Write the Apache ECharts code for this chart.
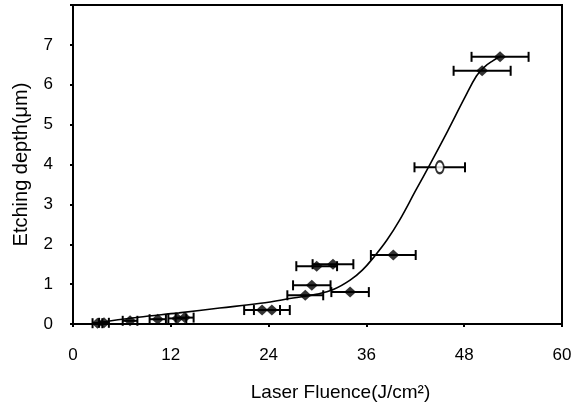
<!DOCTYPE html>
<html>
<head>
<meta charset="utf-8">
<script src="https://cdn.jsdelivr.net/npm/echarts@6/dist/echarts.min.js"></script>
<style>html,body{margin:0;padding:0;background:#fff}#c{width:578px;height:403px}</style>
</head>
<body>
<div id="c"></div>
<script>
// Measured points (Laser fluence J/cm2, etching depth um, +/- fluence error)
var fluence    = [3.0, 3.8, 7.0, 10.4, 12.8, 13.7, 23.2, 24.4, 28.5, 29.3, 34.0, 29.9, 31.9, 39.3, 45.0, 50.2, 52.4];
var depth      = [0.02, 0.03, 0.08, 0.12, 0.14, 0.16, 0.35, 0.35, 0.72, 0.97, 0.80, 1.45, 1.50, 1.73, 3.93, 6.35, 6.70];
var fluenceErr = [0.6, 0.6, 0.9, 1.0, 1.1, 1.1, 2.2, 2.2, 2.2, 2.3, 2.3, 2.5, 2.5, 2.75, 3.1, 3.5, 3.5];
var hollow     = [false,false,false,false,false,false,false,false,false,false,false,false,false,false,true,false,false];

// Fitted curve
var curveX = [2.5, 8, 13, 18, 23, 27, 30, 32, 34, 35.5, 37, 38.5, 40, 42, 44, 46, 48, 49.5, 50.5, 51.5, 52.5];
var curveY = [0.02, 0.17, 0.28, 0.40, 0.52, 0.65, 0.75, 0.87, 1.10, 1.35, 1.70, 2.10, 2.58, 3.33, 4.08, 4.85, 5.65, 6.22, 6.45, 6.60, 6.72];

var xTicks = [0, 12, 24, 36, 48, 60];
var yTicks = [0, 1, 2, 3, 4, 5, 6, 7];

var chart = echarts.init(document.getElementById('c'), null, {renderer: 'canvas'});

var pts = fluence.map(function (x, i) {
  var d = {value: [x, depth[i]]};
  if (hollow[i]) {
    d.symbol = 'circle';
    d.symbolSize = [8, 12];
    d.itemStyle = {color: '#fff', borderColor: '#000', borderWidth: 2};
  }
  return d;
});
var errData = fluence.map(function (x, i) { return [x, depth[i], fluenceErr[i]]; });
var curve = curveX.map(function (x, i) { return [x, curveY[i]]; });

var sans = '"Liberation Sans", Arial, sans-serif';

chart.setOption({
  animation: false,
  backgroundColor: '#fff',
  grid: {left: 73, right: 16, top: 5, bottom: 79, show: true, borderColor: '#000', borderWidth: 2,
    containLabel: false, outerBoundsMode: 'none'},
  xAxis: {
    type: 'value', min: 0, max: 60, interval: 12,
    axisLine: {show: true, lineStyle: {color: '#000', width: 2}},
    axisTick: {show: true, inside: false, length: 3, lineStyle: {color: '#000', width: 2}},
    splitLine: {show: false},
    axisLabel: {color: '#000', fontSize: 17, fontFamily: sans, margin: 23,
      formatter: function (v) { return xTicks.indexOf(v) >= 0 ? String(v) : ''; }},
    name: 'Laser Fluence(J/cm²)', nameLocation: 'middle', nameGap: 59,
    nameTextStyle: {color: '#000', fontSize: 19, fontFamily: sans, padding: [0, 0, 0, 46]}
  },
  yAxis: {
    type: 'value', min: 0, max: 8, interval: 1,
    axisLine: {show: true, lineStyle: {color: '#000', width: 2}},
    axisTick: {show: true, inside: false, length: 3, lineStyle: {color: '#000', width: 2}},
    splitLine: {show: false},
    axisLabel: {color: '#000', fontSize: 17, fontFamily: sans, margin: 20,
      formatter: function (v) { return yTicks.indexOf(v) >= 0 ? String(v) : ''; }},
    name: 'Etching depth(μm)', nameLocation: 'middle', nameGap: 42, nameRotate: 90,
    nameTextStyle: {color: '#000', fontSize: 20, fontFamily: sans}
  },
  series: [
    {
      type: 'line', data: curve, smooth: 0.4, showSymbol: false, symbol: 'none',
      lineStyle: {color: '#000', width: 1.6}, z: 2
    },
    {
      type: 'custom', data: errData, z: 3,
      renderItem: function (params, api) {
        var x = api.value(0), y = api.value(1), e = api.value(2);
        var p1 = api.coord([x - e, y]);
        var p2 = api.coord([x + e, y]);
        var h = 5;
        var st = {stroke: '#000', lineWidth: 2};
        return {
          type: 'group',
          children: [
            {type: 'line', shape: {x1: p1[0], y1: p1[1], x2: p2[0], y2: p2[1]}, style: st},
            {type: 'line', shape: {x1: p1[0], y1: p1[1] - h, x2: p1[0], y2: p1[1] + h}, style: st},
            {type: 'line', shape: {x1: p2[0], y1: p2[1] - h, x2: p2[0], y2: p2[1] + h}, style: st}
          ]
        };
      }
    },
    {
      type: 'scatter', data: pts, symbol: 'diamond', symbolSize: [12, 11],
      itemStyle: {color: '#000'}, z: 4
    }
  ]
});
</script>
</body>
</html>
